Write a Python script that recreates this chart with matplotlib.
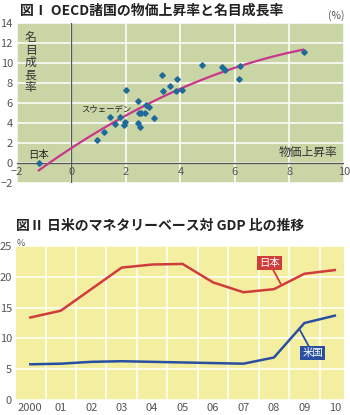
import matplotlib
matplotlib.use("Agg")
import matplotlib.pyplot as plt
import numpy as np

plt.rcParams['font.family'] = ['Noto Sans CJK JP', 'DejaVu Sans']

# Fig I: OECD countries, inflation (x) vs nominal growth (y), %
inflation = [-1.2, 0.92, 1.18, 1.40, 1.59, 1.77, 1.92, 1.95, 2.0, 2.44, 2.44, 2.47,
             2.53, 2.56, 2.71, 2.74, 2.86, 3.04, 3.32, 3.37, 3.63, 3.83, 3.87,
             4.04, 4.80, 5.53, 5.65, 6.2, 6.15, 8.52]
growth = [0.0, 2.3, 3.1, 4.6, 3.9, 4.6, 3.8, 4.1, 7.3, 6.2, 4.0, 5.0,
          3.6, 5.0, 5.0, 5.8, 5.6, 4.5, 8.8, 7.2, 7.7, 7.2, 8.4,
          7.3, 9.8, 9.6, 9.3, 9.7, 8.4, 11.1]

# Fig II: monetary base / GDP, %
years = ['2000', '01', '02', '03', '04', '05', '06', '07', '08', '09', '10']
japan = [13.4, 14.5, 18.0, 21.5, 22.0, 22.1, 19.1, 17.5, 18.0, 20.5, 21.1]
usa = [5.8, 5.9, 6.2, 6.3, 6.2, 6.1, 6.0, 5.9, 6.9, 12.5, 13.7]

green_bg = '#cad5a6'
yellow_bg = '#f4efa0'
tick_col = '#555555'
red = '#d03c3c'
blue = '#2a4fa0'

fig = plt.figure(figsize=(3.5, 4.15), dpi=100)

# ---------- Fig I ----------
ax1 = fig.add_axes([0.0486, 0.559, 0.934, 0.3855])
ax1.set_facecolor(green_bg)
ax1.set_xlim(-2, 10)
ax1.set_ylim(-2, 14)
ax1.set_xticks(np.arange(-2, 11, 2))
ax1.set_yticks(np.arange(-2, 15, 2))
ax1.grid(color='white', linewidth=1.1)
ax1.set_axisbelow(True)
for s in ax1.spines.values():
    s.set_visible(False)
ax1.tick_params(axis='y', length=0, pad=3, labelsize=8, labelcolor=tick_col)
ax1.tick_params(axis='x', length=0, labelbottom=False)
ax1.set_yticklabels([str(v).replace('-', '\u2212') for v in range(-2, 15, 2)])
ax1.axhline(0, color='#555555', lw=0.9, zorder=2)
ax1.axvline(0, color='#555555', lw=0.9, zorder=2)
for v in range(-2, 11, 2):
    ax1.text(v, -0.35, str(v).replace('-', '\u2212'), ha='center', va='top',
             fontsize=8, color=tick_col)

# regression trend
coef = np.polyfit(inflation, growth, 2)
xs = np.linspace(-1.2, 8.5, 100)
ax1.plot(xs, np.polyval(coef, xs), color='#c8378a', lw=1.6, zorder=3)
ax1.plot(inflation, growth, 'D', color='#1f6a9a', ms=2.8, zorder=4)

ax1.text(-1.2, 0.35, '日本', ha='center', va='bottom', fontsize=7.5, color='#222222')
ax1.text(2.2, 5.4, 'スウェーデン', ha='right', va='center', fontsize=6, color='#222222')
ax1.text(-1.5, 13.2, '名\n目\n成\n長\n率', ha='center', va='top', fontsize=8.5,
         color='#333333', linespacing=0.95)
ax1.text(9.75, 0.4, '物価上昇率', ha='right', va='bottom', fontsize=8.5, color='#333333')

fig.text(0.057, 0.975, '図Ⅰ OECD諸国の物価上昇率と名目成長率', ha='left', va='center',
         fontsize=10, fontweight='bold', color='#222222')
fig.text(0.985, 0.962, '(%)', ha='right', va='center', fontsize=7.5, color=tick_col)

# ---------- Fig II ----------
ax2 = fig.add_axes([0.0457, 0.0361, 0.937, 0.371])
ax2.set_facecolor(yellow_bg)
xpos = np.arange(len(years))
ax2.set_xlim(-0.47, 10.3)
ax2.set_ylim(0, 25)
ax2.set_yticks([0, 5, 10, 15, 20, 25])
ax2.set_xticks(xpos)
ax2.set_xticklabels(years)
ax2.set_xticks(xpos[:-1] + 0.5, minor=True)
ax2.grid(axis='x', which='minor', color='white', linewidth=1.1)
ax2.grid(axis='y', which='major', color='white', linewidth=1.1)
ax2.set_axisbelow(True)
for s in ax2.spines.values():
    s.set_visible(False)
ax2.tick_params(which='both', length=0, labelsize=8, labelcolor=tick_col)
ax2.tick_params(axis='y', pad=3)
ax2.tick_params(axis='x', pad=2)

ax2.plot(xpos, japan, color=red, lw=1.8, zorder=3)
ax2.plot(xpos, usa, color=blue, lw=1.8, zorder=3)

ax2.annotate('日本', xy=(8.22, 18.9), xytext=(7.85, 22.3), ha='center', va='center',
             fontsize=7.5, color='white',
             bbox=dict(boxstyle='square,pad=0.2', fc=red, ec='none'),
             arrowprops=dict(arrowstyle='-', color=red, lw=1.3, shrinkA=0, shrinkB=0))
ax2.annotate('米国', xy=(8.85, 11.4), xytext=(9.27, 7.6), ha='center', va='center',
             fontsize=7.5, color='white',
             bbox=dict(boxstyle='square,pad=0.2', fc=blue, ec='none'),
             arrowprops=dict(arrowstyle='-', color=blue, lw=1.3, shrinkA=0, shrinkB=0))

fig.text(0.046, 0.456, '図Ⅱ 日米のマネタリーベース対 GDP 比の推移', ha='left', va='center',
         fontsize=10, fontweight='bold', color='#222222')
fig.text(0.047, 0.414, '%', ha='left', va='center', fontsize=6.5, color=tick_col)

fig.savefig('out.png', dpi=100)
